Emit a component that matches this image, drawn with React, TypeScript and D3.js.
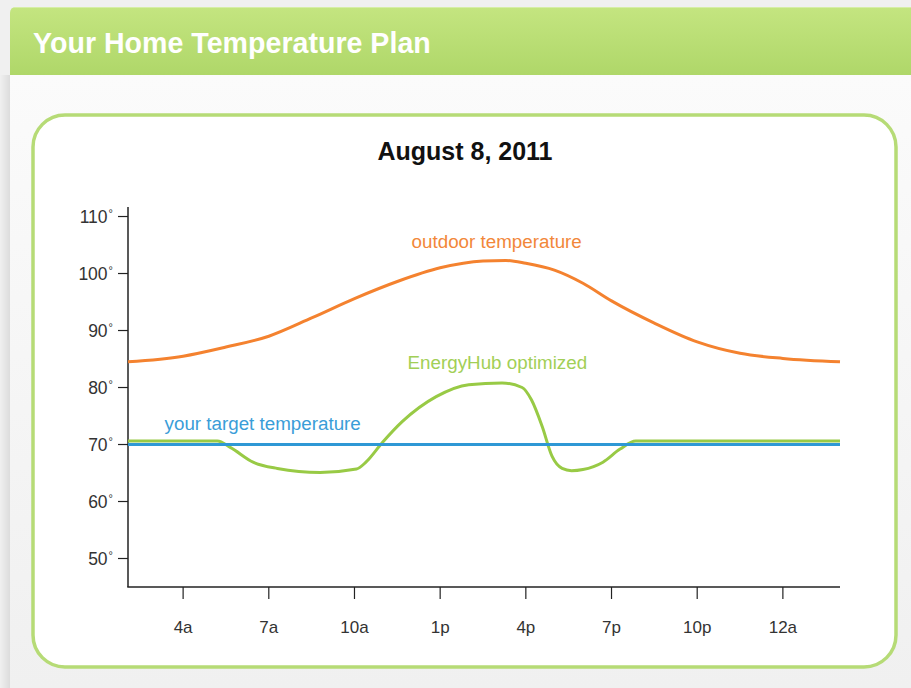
import React, { useRef, useEffect } from 'react';
import * as d3 from 'd3';

// chart data
const tickHours = [4, 7, 10, 13, 16, 19, 22, 25];
const tickLabels = ['4a', '7a', '10a', '1p', '4p', '7p', '10p', '12a'];
const yTicks = [50, 60, 70, 80, 90, 100, 110];

const outdoorHours = [2.07, 4, 5.5, 7, 8.5, 10, 11.5, 13, 14.5, 15.3, 16, 17, 18, 19, 20.5, 22, 23.5, 25, 27];
const outdoorTemps = [84.5, 85.5, 87.1, 89.0, 92.2, 95.6, 98.6, 101.0, 102.2, 102.3, 101.8, 100.6, 98.3, 95.2, 91.3, 88.0, 86.0, 85.1, 84.5];

const hubHours = [2.07, 5.2, 5.65, 6.45, 7.3, 8.8, 10.07, 10.4, 10.97, 11.67, 12.86, 14.0, 15.17, 15.87, 16.2, 16.57, 16.92, 17.27, 17.6, 18.0, 18.7, 19.3, 19.85, 27];
const hubTemps = [70.6, 70.6, 69.5, 66.9, 65.8, 65.1, 65.7, 66.9, 70.3, 74.0, 78.4, 80.5, 80.8, 80.0, 77.8, 73.2, 67.9, 65.8, 65.4, 65.6, 66.9, 69.2, 70.6, 70.6];

const targetHours = [2.07, 27];
const targetTemps = [70, 70];

const W = 911;
const H = 688;

const App: React.FC = () => {
  const svgRef = useRef<SVGSVGElement>(null);

  useEffect(() => {
    if (!svgRef.current) return;
    const svg = d3.select(svgRef.current);
    svg.selectAll('*').remove();

    const font = 'Liberation Sans, Arial, Helvetica, sans-serif';

    // gradients
    const defs = svg.append('defs');
    const hg = defs.append('linearGradient').attr('id', 'hdr').attr('x1', 0).attr('y1', 0).attr('x2', 0).attr('y2', 1);
    hg.append('stop').attr('offset', '0%').attr('stop-color', '#c4e580');
    hg.append('stop').attr('offset', '100%').attr('stop-color', '#afd769');
    const cg = defs.append('linearGradient').attr('id', 'card').attr('x1', 0).attr('y1', 0).attr('x2', 0).attr('y2', 1);
    cg.append('stop').attr('offset', '0%').attr('stop-color', '#fbfbfb');
    cg.append('stop').attr('offset', '100%').attr('stop-color', '#f0f0f0');
    const sg = defs.append('linearGradient').attr('id', 'shadow').attr('x1', 0).attr('y1', 0).attr('x2', 1).attr('y2', 0);
    sg.append('stop').attr('offset', '0%').attr('stop-color', '#f0f0f0');
    sg.append('stop').attr('offset', '100%').attr('stop-color', '#dcdcdc');

    // page background
    svg.append('rect').attr('width', W).attr('height', H).attr('fill', '#f0f0f0');
    svg.append('rect').attr('x', 0).attr('y', 75).attr('width', 10).attr('height', H - 75).attr('fill', 'url(#shadow)');
    svg.append('rect').attr('x', 10).attr('y', 75).attr('width', W - 10).attr('height', H - 75).attr('fill', 'url(#card)');

    // header bar
    svg.append('path')
      .attr('d', `M10,${75} L10,13 Q10,7 16,7 L${W},7 L${W},75 Z`)
      .attr('fill', 'url(#hdr)');
    svg.append('line').attr('x1', 14).attr('x2', W).attr('y1', 7.5).attr('y2', 7.5)
      .attr('stroke', '#d6eea6').attr('stroke-width', 1);
    svg.append('text')
      .attr('x', 33).attr('y', 53)
      .attr('fill', '#ffffff')
      .style('font-family', font)
      .style('font-size', '28.6px')
      .style('font-weight', 'bold')
      .text('Your Home Temperature Plan');

    // inner rounded box
    svg.append('rect')
      .attr('x', 33).attr('y', 115).attr('width', 863).attr('height', 552)
      .attr('rx', 32).attr('ry', 32)
      .attr('fill', '#ffffff')
      .attr('stroke', '#b6db76')
      .attr('stroke-width', 3.5);

    // title
    svg.append('text')
      .attr('x', 465).attr('y', 160)
      .attr('text-anchor', 'middle')
      .attr('fill', '#111')
      .style('font-family', font)
      .style('font-size', '25px')
      .style('font-weight', 'bold')
      .text('August 8, 2011');

    // scales
    const x = d3.scaleLinear().domain([2.07, 27]).range([128, 840]);
    const y = d3.scaleLinear().domain([45, 111.67]).range([587, 207]);

    // axes
    const axisColor = '#222';
    svg.append('line').attr('x1', 128).attr('x2', 128).attr('y1', y(111.67)).attr('y2', y(45))
      .attr('stroke', axisColor).attr('stroke-width', 1.5);
    svg.append('line').attr('x1', 127.25).attr('x2', 840).attr('y1', y(45)).attr('y2', y(45))
      .attr('stroke', axisColor).attr('stroke-width', 1.5);

    yTicks.forEach(t => {
      svg.append('line').attr('x1', 118).attr('x2', 128).attr('y1', y(t)).attr('y2', y(t))
        .attr('stroke', axisColor).attr('stroke-width', 1.2);
      const tx = svg.append('text')
        .attr('x', 113).attr('y', y(t) + 6)
        .attr('text-anchor', 'end')
        .attr('fill', '#333')
        .style('font-family', font)
        .style('font-size', '17.5px');
      tx.append('tspan').text(String(t));
      tx.append('tspan').attr('dx', 1).attr('dy', -6).style('font-size', '11px').text('°');
    });

    tickHours.forEach((h, i) => {
      svg.append('line').attr('x1', x(h)).attr('x2', x(h)).attr('y1', y(45)).attr('y2', y(45) + 12)
        .attr('stroke', axisColor).attr('stroke-width', 1.2);
      svg.append('text')
        .attr('x', x(h)).attr('y', 633)
        .attr('text-anchor', 'middle')
        .attr('fill', '#333')
        .style('font-family', font)
        .style('font-size', '17px')
        .text(tickLabels[i]);
    });

    const line = d3.line<number>()
      .curve(d3.curveMonotoneX);

    const draw = (hours: number[], temps: number[], color: string, width: number) => {
      line.x((_, i) => x(hours[i])).y(d => y(d));
      svg.append('path')
        .datum(temps)
        .attr('fill', 'none')
        .attr('stroke', color)
        .attr('stroke-width', width)
        .attr('stroke-linejoin', 'round')
        .attr('d', line);
    };

    draw(outdoorHours, outdoorTemps, '#f4822f', 3);
    draw(hubHours, hubTemps, '#98ca45', 3);
    draw(targetHours, targetTemps, '#2e98d5', 3);

    // series labels
    const label = (text: string, hx: number, ty: number, color: string) => {
      svg.append('text')
        .attr('x', x(hx)).attr('y', y(ty))
        .attr('fill', color)
        .style('font-family', font)
        .style('font-size', '18.8px')
        .text(text);
    };
    label('outdoor temperature', 12.0, 104.4, '#f2873a');
    label('EnergyHub optimized', 11.86, 83.2, '#a2cf56');
    label('your target temperature', 3.35, 72.6, '#3a9dd8');
  }, []);

  return (
    <svg
      ref={svgRef}
      width={W}
      height={H}
      style={{ position: 'absolute', left: 0, top: 0, display: 'block' }}
    />
  );
};

export default App;
